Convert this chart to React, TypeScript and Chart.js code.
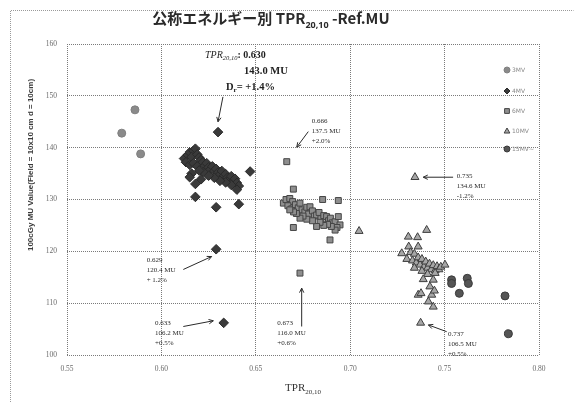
import React, { useEffect, useRef } from "react";
import { Chart, registerables } from "chart.js";
Chart.register(...registerables);

// ---------- data ----------
const energies = ["3MV", "4MV", "6MV", "10MV", "15MV~"];

const tpr3MV = [0.579, 0.586, 0.589];
const mu3MV = [142.8, 147.3, 138.8];

const tpr4MV = [
  0.612, 0.614, 0.615, 0.617, 0.618, 0.616, 0.619, 0.620, 0.621, 0.613, 0.615, 0.617, 0.619, 0.622,
  0.623, 0.624, 0.625, 0.626, 0.627, 0.628, 0.629, 0.630, 0.631, 0.632, 0.633, 0.634, 0.635, 0.636,
  0.637, 0.638, 0.639, 0.640, 0.641, 0.640, 0.637, 0.634, 0.631, 0.628, 0.625, 0.622, 0.620, 0.616,
  0.615, 0.621, 0.618, 0.618, 0.629, 0.641, 0.647, 0.630, 0.629, 0.633,
];
const mu4MV = [
  137.9, 138.6, 139.1, 139.4, 139.8, 138.2, 138.7, 138.1, 137.6, 137.2, 136.7, 137.0, 136.4, 137.2,
  136.5, 137.0, 136.2, 135.8, 136.4, 135.5, 135.9, 135.2, 134.8, 135.5, 134.5, 134.9, 134.2, 133.8,
  134.5, 133.5, 134.0, 133.2, 132.6, 131.9, 132.8, 133.3, 133.6, 134.2, 134.6, 135.3, 135.6, 135.0,
  134.3, 133.9, 133.0, 130.5, 128.5, 129.1, 135.4, 143.0, 120.4, 106.2,
];

const tpr6MV = [
  0.6646, 0.666, 0.668, 0.6695, 0.667, 0.669, 0.671, 0.6725, 0.6734, 0.6745, 0.676, 0.677, 0.6787,
  0.678, 0.68, 0.681, 0.6822, 0.6835, 0.6845, 0.686, 0.6875, 0.6885, 0.6895, 0.6905, 0.692, 0.6937,
  0.6946, 0.693, 0.692, 0.69, 0.688, 0.686, 0.684, 0.6822, 0.68, 0.677, 0.675, 0.6734, 0.6715, 0.67,
  0.668, 0.6699, 0.6893, 0.6699, 0.6854, 0.6937, 0.6664, 0.6734,
];
const mu6MV = [
  129.3, 130.0, 130.2, 129.6, 128.8, 128.2, 129.0, 128.4, 129.3, 128.0, 127.6, 128.5, 128.6, 127.2,
  127.8, 126.8, 127.0, 127.5, 126.3, 126.9, 126.7, 125.9, 126.4, 125.5, 125.7, 126.7, 125.1, 124.6,
  124.1, 124.8, 125.2, 125.0, 125.6, 124.8, 125.9, 126.2, 126.8, 126.4, 127.3, 127.6, 128.0, 124.6,
  122.2, 132.0, 130.0, 129.8, 137.3, 115.8,
];

const tpr10MV = [
  0.7047, 0.7343, 0.7373, 0.7308, 0.7357, 0.7405, 0.7273, 0.731, 0.736, 0.730, 0.732, 0.733, 0.734,
  0.735, 0.736, 0.737, 0.738, 0.739, 0.740, 0.741, 0.742, 0.743, 0.744, 0.745, 0.746, 0.747, 0.748,
  0.7502, 0.738, 0.741, 0.734, 0.745, 0.7387, 0.744, 0.7422, 0.736, 0.7432, 0.744, 0.7414, 0.7375,
  0.7446,
];
const mu10MV = [
  123.9, 134.3, 106.2, 122.8, 122.7, 124.1, 119.6, 120.9, 120.9, 118.5, 119.8, 118.2, 119.5, 117.8,
  118.8, 117.4, 118.5, 117.0, 118.0, 116.8, 117.6, 116.5, 117.3, 116.3, 117.1, 116.5, 117.0, 117.4,
  116.2, 115.6, 116.8, 115.8, 114.6, 114.5, 113.2, 111.6, 111.6, 109.3, 110.3, 111.9, 112.4,
];

const tpr15MV = [0.7537, 0.7537, 0.762, 0.7626, 0.7578, 0.782, 0.7838];
const mu15MV = [114.5, 113.8, 114.8, 113.8, 111.9, 111.4, 104.1];

const xTicks = [0.55, 0.6, 0.65, 0.7, 0.75, 0.8];
const yTicks = [100, 110, 120, 130, 140, 150, 160];

// callouts (TPR, MU, difference)
const calloutTpr = [0.666, 0.735, 0.629, 0.633, 0.673, 0.737];
const calloutMU = [137.5, 134.6, 120.4, 106.2, 116.0, 106.5];
const calloutDiff = ["+2.0%", "-1.2%", "+ 1.2%", "+0.5%", "+0.6%", "+0.5%"];

const mainTpr = "0.630";
const mainMU = "143.0 MU";
const mainDiff = "= +1.4%";

// ---------- placement (data units) ----------
const calloutTextAt = [
  [0.6796, 145.2],
  [0.7564, 134.5],
  [0.5922, 118.3],
  [0.5966, 106.2],
  [0.6614, 106.2],
  [0.7518, 104.1],
];
const calloutArrows = [
  [0.6778, 143.1, 0.6717, 140.1],
  [0.7545, 134.3, 0.7387, 134.3],
  [0.6116, 116.5, 0.6266, 119.0],
  [0.6116, 105.5, 0.6275, 106.6],
  [0.6743, 105.5, 0.6743, 112.9],
  [0.7511, 104.5, 0.7414, 105.8],
];
const mainTextAt = [
  [0.6231, 158.1],
  [0.6438, 155.0],
  [0.6342, 151.9],
];
const mainArrow = [0.6326, 149.8, 0.63, 145.0];

// ---------- styles ----------
const styles = [
  { pointStyle: "circle", r: 4, fill: "#8a8a8a", stroke: "#808080" },
  { pointStyle: "rectRot", r: 4.8, fill: "#3a3a3a", stroke: "#2a2a2a" },
  { pointStyle: "rect", r: 4.2, fill: "#8e8e8e", stroke: "#454545" },
  { pointStyle: "triangle", r: 4.6, fill: "#a6a6a6", stroke: "#3e3e3e" },
  { pointStyle: "circle", r: 4, fill: "#555555", stroke: "#3a3a3a" },
];

type Run = { t: string; font: string; dy?: number };
function drawRuns(ctx: CanvasRenderingContext2D, runs: Run[], x: number, y: number, align: "left" | "center") {
  let w = 0;
  runs.forEach((r) => {
    ctx.font = r.font;
    w += ctx.measureText(r.t).width;
  });
  let cx = align === "center" ? x - w / 2 : x;
  ctx.textAlign = "left";
  ctx.textBaseline = "alphabetic";
  runs.forEach((r) => {
    ctx.font = r.font;
    ctx.fillText(r.t, cx, y + (r.dy || 0));
    cx += ctx.measureText(r.t).width;
  });
}

function drawMarker(ctx: CanvasRenderingContext2D, style: string, x: number, y: number, r: number, fill: string, stroke: string) {
  ctx.beginPath();
  if (style === "circle") ctx.arc(x, y, r, 0, Math.PI * 2);
  else if (style === "rectRot") {
    ctx.moveTo(x, y - r);
    ctx.lineTo(x + r, y);
    ctx.lineTo(x, y + r);
    ctx.lineTo(x - r, y);
    ctx.closePath();
  } else if (style === "rect") {
    const s = r * 0.8;
    ctx.rect(x - s, y - s, 2 * s, 2 * s);
  } else {
    const h = r * 1.5;
    ctx.moveTo(x, y - r);
    ctx.lineTo(x + r * 0.95, y + h / 2.2);
    ctx.lineTo(x - r * 0.95, y + h / 2.2);
    ctx.closePath();
  }
  ctx.fillStyle = fill;
  ctx.fill();
  ctx.strokeStyle = stroke;
  ctx.lineWidth = 1;
  ctx.stroke();
}

function arrow(ctx: CanvasRenderingContext2D, x1: number, y1: number, x2: number, y2: number) {
  ctx.strokeStyle = "#2a2a2a";
  ctx.lineWidth = 1;
  ctx.beginPath();
  ctx.moveTo(x1, y1);
  ctx.lineTo(x2, y2);
  ctx.stroke();
  const a = Math.atan2(y2 - y1, x2 - x1);
  const L = 5;
  ctx.beginPath();
  ctx.moveTo(x2 - L * Math.cos(a - 0.45), y2 - L * Math.sin(a - 0.45));
  ctx.lineTo(x2, y2);
  ctx.lineTo(x2 - L * Math.cos(a + 0.45), y2 - L * Math.sin(a + 0.45));
  ctx.stroke();
}

const serif = '"Liberation Serif", "DejaVu Serif", serif';

const overlayPlugin = {
  id: "overlay",
  afterDraw(chart: any) {
    const ctx: CanvasRenderingContext2D = chart.ctx;
    const xs = chart.scales.x;
    const ys = chart.scales.y;
    const px = (v: number) => xs.getPixelForValue(v);
    const py = (v: number) => ys.getPixelForValue(v);
    const ca = chart.chartArea;
    ctx.save();

    // outer dotted frame
    ctx.strokeStyle = "#9a9a9a";
    ctx.setLineDash([1, 1]);
    ctx.lineWidth = 1;
    ctx.beginPath();
    ctx.moveTo(10.5, 402);
    ctx.lineTo(10.5, 10.5);
    ctx.lineTo(573.5, 10.5);
    ctx.stroke();
    ctx.setLineDash([]);

    // title
    ctx.fillStyle = "#2a2a2a";
    const tf = 'bold 15px "Noto Sans CJK JP", "Noto Sans", sans-serif';
    drawRuns(
      ctx,
      [
        { t: "公称エネルギー別 TPR", font: tf },
        { t: "20,10", font: 'bold 9px "Noto Sans", sans-serif', dy: 4 },
        { t: " -Ref.MU", font: tf },
      ],
      271,
      24,
      "center"
    );

    // y title
    ctx.save();
    ctx.translate(31, 165);
    ctx.rotate(-Math.PI / 2);
    ctx.fillStyle = "#3a3a3a";
    ctx.font = 'bold 8px "Liberation Sans", "DejaVu Sans", sans-serif';
    ctx.textAlign = "center";
    ctx.textBaseline = "middle";
    ctx.fillText("100cGy MU Value(Field = 10x10 cm d = 10cm)", 0, 0, 187);
    ctx.restore();

    // x title
    ctx.fillStyle = "#333";
    drawRuns(
      ctx,
      [
        { t: "TPR", font: `11px ${serif}` },
        { t: "20,10", font: `7px ${serif}`, dy: 3 },
      ],
      (ca.left + ca.right) / 2,
      391,
      "center"
    );

    // legend
    const legY = [70, 91, 111, 131, 149];
    energies.forEach((name, i) => {
      const st = styles[i];
      drawMarker(ctx, st.pointStyle, ca.right - 32, legY[i], 3, st.fill, st.stroke);
      ctx.fillStyle = "#8a8a8a";
      ctx.textAlign = "left";
      ctx.textBaseline = "middle";
      ctx.font = '6px "DejaVu Sans", sans-serif';
      ctx.fillText(name, ca.right - 27, legY[i]);
    });

    // main callout
    ctx.fillStyle = "#1e1e1e";
    drawRuns(
      ctx,
      [
        { t: "TPR", font: `italic 10px ${serif}` },
        { t: "20,10", font: `italic 6.5px ${serif}`, dy: 2 },
        { t: ": " + mainTpr, font: `bold 10px ${serif}` },
      ],
      px(mainTextAt[0][0]),
      py(mainTextAt[0][1]) + 4,
      "left"
    );
    drawRuns(ctx, [{ t: mainMU, font: `bold 10.5px ${serif}` }], px(mainTextAt[1][0]), py(mainTextAt[1][1]) + 4, "left");
    drawRuns(
      ctx,
      [
        { t: "D", font: `bold 10.5px ${serif}` },
        { t: "r", font: `bold 7px ${serif}`, dy: 2 },
        { t: mainDiff, font: `bold 10.5px ${serif}` },
      ],
      px(mainTextAt[2][0]),
      py(mainTextAt[2][1]) + 4,
      "left"
    );
    arrow(ctx, px(mainArrow[0]), py(mainArrow[1]), px(mainArrow[2]), py(mainArrow[3]));

    // small callouts
    calloutTpr.forEach((t, i) => {
      const x = px(calloutTextAt[i][0]);
      const y = py(calloutTextAt[i][1]);
      ctx.fillStyle = "#2a2a2a";
      ctx.font = `7px ${serif}`;
      ctx.textAlign = "left";
      ctx.textBaseline = "middle";
      ctx.fillText(t.toFixed(3), x, y);
      ctx.fillText(calloutMU[i].toFixed(1) + " MU", x, y + 10);
      ctx.fillText(calloutDiff[i], x, y + 20);
      const a = calloutArrows[i];
      arrow(ctx, px(a[0]), py(a[1]), px(a[2]), py(a[3]));
    });

    ctx.restore();
  },
};

export default function App() {
  const ref = useRef<HTMLCanvasElement | null>(null);
  useEffect(() => {
    document.body.style.margin = "0";
    const mk = (xs: number[], ys: number[]) => xs.map((x, i) => ({ x, y: ys[i] }));
    const series = [
      mk(tpr3MV, mu3MV),
      mk(tpr4MV, mu4MV),
      mk(tpr6MV, mu6MV),
      mk(tpr10MV, mu10MV),
      mk(tpr15MV, mu15MV),
    ];
    const chart = new Chart(ref.current!, {
      type: "scatter",
      data: {
        datasets: series.map((d, i) => ({
          label: energies[i],
          data: d,
          pointStyle: styles[i].pointStyle as any,
          pointRadius: styles[i].r,
          backgroundColor: styles[i].fill,
          borderColor: styles[i].stroke,
          borderWidth: 1,
        })),
      },
      options: {
        responsive: false,
        animation: false,
        layout: { padding: { left: 0, top: 44, right: 37, bottom: 0 } },
        plugins: { legend: { display: false }, title: { display: false }, tooltip: { enabled: false } },
        scales: {
          x: {
            type: "linear",
            min: xTicks[0],
            max: xTicks[xTicks.length - 1],
            afterBuildTicks: (s: any) => {
              s.ticks = xTicks.map((v) => ({ value: v }));
            },
            afterFit: (s: any) => {
              s.height = 48;
            },
            ticks: {
              callback: (v: any) => Number(v).toFixed(2),
              font: { family: serif, size: 7.5 },
              color: "#6a6a6a",
              padding: 10,
              maxRotation: 0,
            },
            grid: { color: "#7a7a7a", lineWidth: 1, drawTicks: false },
            border: { display: false, dash: [1, 1] },
          },
          y: {
            type: "linear",
            min: yTicks[0],
            max: yTicks[yTicks.length - 1],
            afterBuildTicks: (s: any) => {
              s.ticks = yTicks.map((v) => ({ value: v }));
            },
            afterFit: (s: any) => {
              s.width = 67;
            },
            ticks: {
              font: { family: serif, size: 7.5 },
              color: "#6a6a6a",
              padding: 10,
            },
            grid: { color: "#7a7a7a", lineWidth: 1, drawTicks: false },
            border: { display: false, dash: [1, 1] },
          },
        },
      },
      plugins: [overlayPlugin],
    });
    return () => chart.destroy();
  }, []);
  return <canvas ref={ref} width={576} height={403} style={{ display: "block" }} />;
}
